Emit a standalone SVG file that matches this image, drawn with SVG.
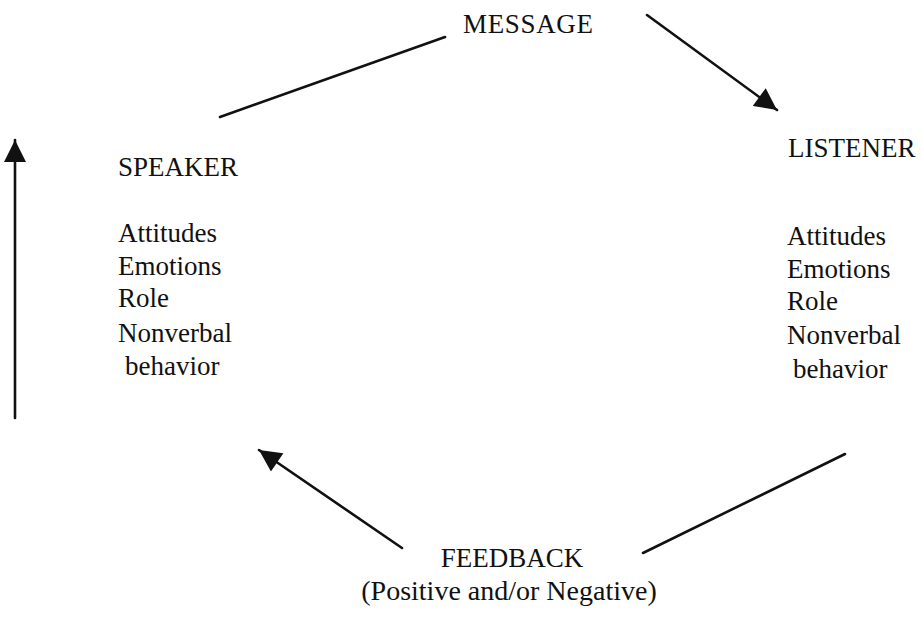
<svg xmlns="http://www.w3.org/2000/svg" width="922" height="618" viewBox="0 0 922 618">
<style>
text{font-family:"Liberation Serif","Times New Roman",serif;font-size:27px;fill:#111}
.c line{stroke:#111;stroke-width:2.6;stroke-linecap:round}
</style>
<defs>
<marker id="ah" viewBox="0 0 10 10" refX="10" refY="5" markerUnits="userSpaceOnUse" markerWidth="24" markerHeight="22" orient="auto">
<path d="M0,0 L10,5 L0,10 z" fill="#111"/>
</marker>
</defs>
<rect width="922" height="618" fill="#fff"/>
<g class="c" id="connectors">
<line x1="220" y1="117" x2="445" y2="37"/>
<line x1="647" y1="15" x2="777" y2="110" marker-end="url(#ah)"/>
<line x1="845" y1="454" x2="643" y2="553"/>
<line x1="402" y1="548" x2="259" y2="450" marker-end="url(#ah)"/>
<line x1="15" y1="418" x2="15" y2="140" marker-end="url(#ah)"/>
</g>
<g id="message"><text x="463" y="33" textLength="130">MESSAGE</text></g>
<g id="speaker">
<text x="118" y="176">SPEAKER</text>
<text x="118" y="242">Attitudes</text>
<text x="118" y="275">Emotions</text>
<text x="118" y="307">Role</text>
<text x="118" y="342">Nonverbal</text>
<text x="125" y="375">behavior</text>
</g>
<g id="listener">
<text x="788" y="157">LISTENER</text>
<text x="787" y="245">Attitudes</text>
<text x="787" y="278">Emotions</text>
<text x="787" y="310">Role</text>
<text x="787" y="344">Nonverbal</text>
<text x="793" y="378">behavior</text>
</g>
<g id="feedback">
<text x="512" y="567" text-anchor="middle">FEEDBACK</text>
<text x="509" y="600" text-anchor="middle" style="font-size:28px">(Positive and/or Negative)</text>
</g>
</svg>
